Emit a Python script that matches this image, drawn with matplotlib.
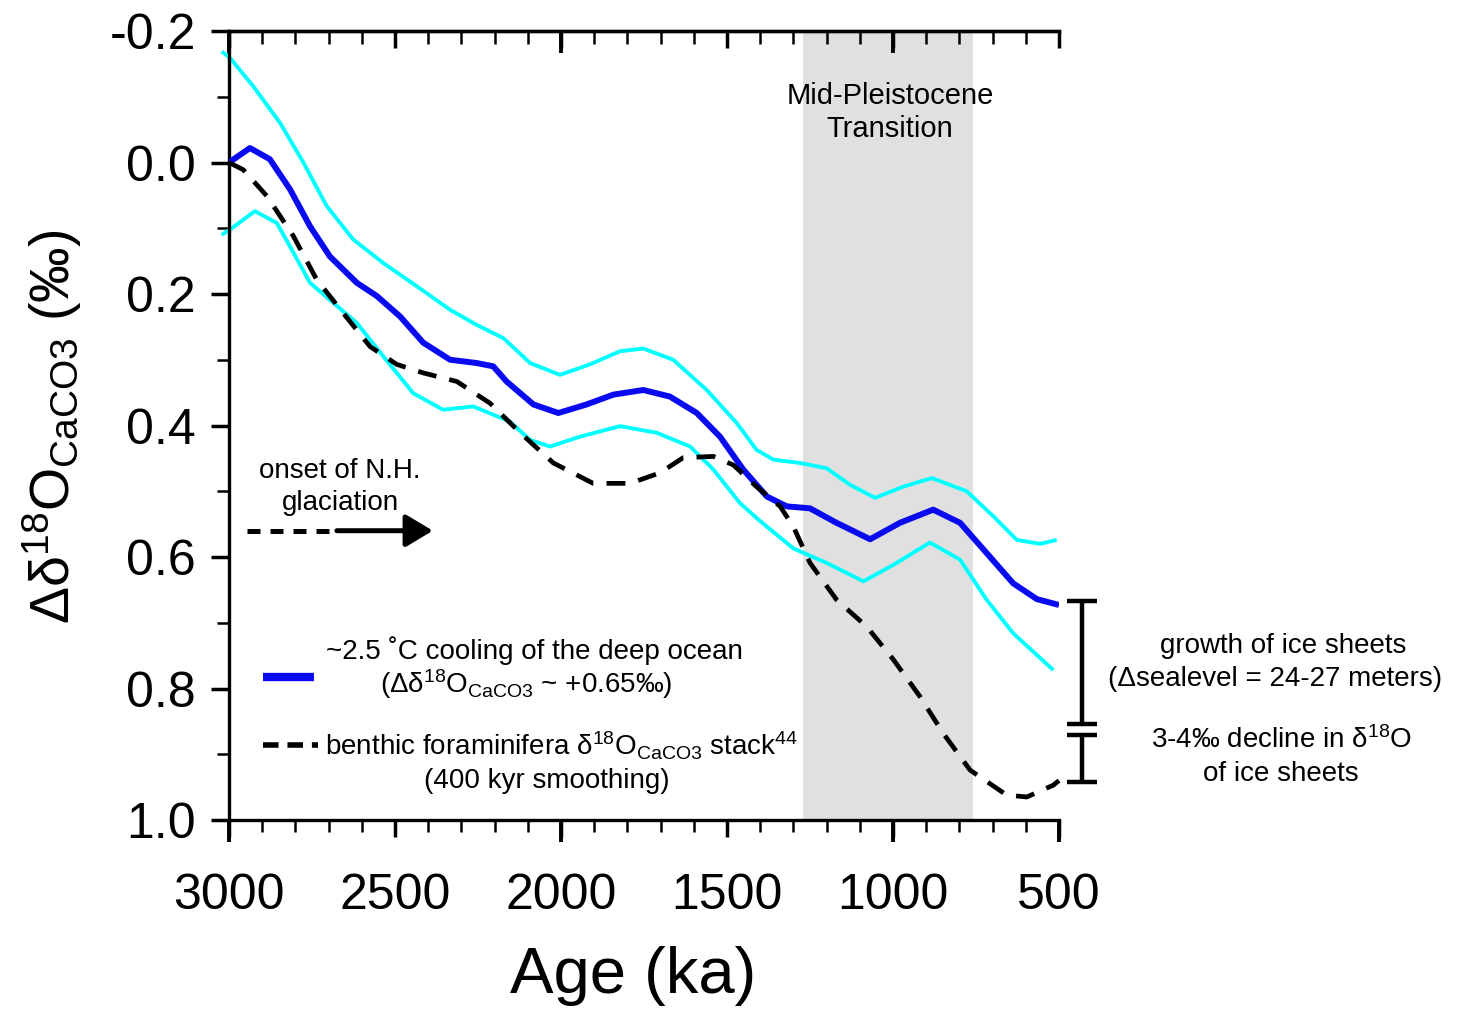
import matplotlib
matplotlib.use('Agg')  # no display
import matplotlib.pyplot as plt
from matplotlib.ticker import MultipleLocator, FormatStrFormatter

plt.rcParams['font.family'] = ['Liberation Sans', 'DejaVu Sans']
plt.rcParams['mathtext.fontset'] = 'custom'
plt.rcParams['mathtext.rm'] = 'Liberation Sans'
plt.rcParams['mathtext.it'] = 'Liberation Sans:italic'
plt.rcParams['mathtext.bf'] = 'Liberation Sans:bold'
plt.rcParams['axes.unicode_minus'] = False
plt.rcParams['lines.solid_joinstyle'] = 'round'
plt.rcParams['lines.solid_capstyle'] = 'butt'

# ---- data (age in ka, delta in permil) ----
ocean_age = [3000, 2937, 2877, 2816, 2756, 2696, 2615, 2555, 2485, 2415, 2334, 2254,
             2204, 2164, 2083, 2008, 1923, 1842, 1752, 1672, 1591, 1521, 1451, 1380,
             1320, 1250, 1170, 1069, 979, 879, 798, 718, 638, 567, 500]
ocean_d18o = [0.000, -0.022, -0.005, 0.041, 0.097, 0.143, 0.183, 0.203, 0.234, 0.274,
              0.300, 0.305, 0.310, 0.333, 0.368, 0.381, 0.368, 0.353, 0.346, 0.356,
              0.381, 0.417, 0.467, 0.508, 0.523, 0.526, 0.548, 0.573, 0.548, 0.528,
              0.548, 0.594, 0.640, 0.664, 0.673]

upper_age = [3022, 2997, 2927, 2846, 2776, 2706, 2626, 2535, 2435, 2334, 2254, 2174,
             2093, 2003, 1913, 1822, 1752, 1662, 1561, 1471, 1411, 1360, 1280, 1200,
             1130, 1054, 969, 883, 778, 698, 627, 557, 507]
upper_d18o = [-0.169, -0.159, -0.116, -0.060, 0.000, 0.066, 0.117, 0.153, 0.188, 0.224,
              0.247, 0.267, 0.305, 0.323, 0.307, 0.287, 0.283, 0.300, 0.346, 0.396,
              0.437, 0.452, 0.457, 0.465, 0.490, 0.510, 0.493, 0.480, 0.500, 0.538,
              0.574, 0.580, 0.574]

lower_age = [3022, 2997, 2922, 2856, 2806, 2756, 2696, 2615, 2535, 2445, 2355, 2264,
             2154, 2093, 2033, 1943, 1822, 1712, 1611, 1541, 1461, 1401, 1300, 1200,
             1089, 999, 889, 798, 718, 638, 517]
lower_d18o = [0.110, 0.102, 0.074, 0.092, 0.137, 0.183, 0.209, 0.244, 0.295, 0.351,
              0.376, 0.371, 0.394, 0.422, 0.432, 0.417, 0.401, 0.411, 0.432, 0.467,
              0.518, 0.545, 0.587, 0.609, 0.637, 0.612, 0.578, 0.604, 0.665, 0.716,
              0.772]

stack_age = [3000, 2957, 2886, 2806, 2736, 2656, 2575, 2495, 2415, 2314, 2214, 2123,
             2023, 1903, 1792, 1702, 1632, 1541, 1481, 1411, 1340, 1300, 1250, 1170,
             1079, 999, 919, 849, 768, 658, 597, 517, 500]
stack_d18o = [0.000, 0.011, 0.051, 0.112, 0.178, 0.229, 0.280, 0.307, 0.320, 0.333,
              0.366, 0.411, 0.457, 0.488, 0.488, 0.472, 0.449, 0.447, 0.460, 0.493,
              0.523, 0.554, 0.609, 0.665, 0.706, 0.756, 0.812, 0.868, 0.924, 0.962,
              0.965, 0.947, 0.940]

mpt_band = (1270, 760)          # Mid-Pleistocene Transition shading
ice_growth = (0.667, 0.854)     # bracket: growth of ice sheets
ice_decline = (0.871, 0.942)    # bracket: 3-4 permil decline

W, H = 1460, 1013
fig = plt.figure(figsize=(W / 100, H / 100), dpi=100)
ax = fig.add_axes([229 / W, 1 - 820 / H, 830 / W, 789 / H])


def ftext(x, y, s, **kw):
    """text placed in reference pixel coords"""
    fig.text(x / W, 1 - y / H, s, **kw)


ax.axvspan(*mpt_band, color='#e0e0e0', lw=0, zorder=0)
ax.plot(upper_age, upper_d18o, color='#00ffff', lw=2.8, clip_on=False, zorder=2)
ax.plot(lower_age, lower_d18o, color='#00ffff', lw=2.8, clip_on=False, zorder=2)
ax.plot(ocean_age, ocean_d18o, color='#0a0af0', lw=4.3, zorder=3)
ax.plot(stack_age, stack_d18o, color='black', lw=3.4, dashes=(4.0, 2.8),
        dash_capstyle='butt', clip_on=False, zorder=4)

ax.set_xlim(3000, 500)
ax.set_ylim(1.0, -0.2)
ax.xaxis.set_major_locator(MultipleLocator(500))
ax.xaxis.set_minor_locator(MultipleLocator(100))
ax.yaxis.set_major_locator(MultipleLocator(0.2))
ax.yaxis.set_minor_locator(MultipleLocator(0.1))
ax.yaxis.set_major_formatter(FormatStrFormatter('%.1f'))

ax.tick_params(axis='x', which='major', direction='out', length=12, width=2.5,
               labelsize=36, pad=26)
ax.tick_params(axis='x', which='minor', direction='out', length=8.5, width=1.8)
ax.tick_params(axis='y', which='major', direction='out', length=13, width=2.5,
               labelsize=36, pad=11)
ax.tick_params(axis='y', which='minor', direction='out', length=8.5, width=1.8)
ax.spines['right'].set_visible(False)
for s in ('left', 'bottom', 'top'):
    ax.spines[s].set_linewidth(2.4)

# top axis: inward ticks
top = ax.secondary_xaxis('top')
top.xaxis.set_major_locator(MultipleLocator(500))
top.xaxis.set_minor_locator(MultipleLocator(100))
top.tick_params(which='major', direction='in', length=12, width=2.5, labeltop=False)
top.tick_params(which='minor', direction='in', length=9, width=1.8)
top.spines['top'].set_linewidth(2.4)

# longer ticks every 1000 ka
top_long = ax.secondary_xaxis('top')
top_long.set_xticks([3000, 2000, 1000])
top_long.tick_params(direction='in', length=16, width=2.8, labeltop=False)
bot_long = ax.secondary_xaxis('bottom')
bot_long.set_xticks([3000, 2000, 1000, 500])
bot_long.tick_params(direction='out', length=16, width=2.8, labelbottom=False)

# onset arrow
ax.plot([2946, 2696], [0.56, 0.56], color='black', lw=3.6, dashes=(2.6, 2.0),
        dash_capstyle='butt')
ax.annotate('', xy=(2386, 0.56), xytext=(2675, 0.56),
            arrowprops=dict(arrowstyle='-|>,head_length=0.75,head_width=0.45',
                            lw=3.6, color='black', mutation_scale=22,
                            shrinkA=0, shrinkB=0))

# legend samples
ax.plot([2898, 2744], [0.782, 0.782], color='#0a0af0', lw=6)
ax.plot([2898, 2732], [0.886, 0.886], color='black', lw=4, dashes=(2.8, 1.6),
        dash_capstyle='butt')

# right-hand brackets
bx, cap = 430, 45
for lo, hi in (ice_growth, ice_decline):
    ax.plot([bx, bx], [lo, hi], color='black', lw=3.2, clip_on=False)
    for yv in (lo, hi):
        ax.plot([bx - cap, bx + cap], [yv, yv], color='black', lw=3.2, clip_on=False)

fs = 20
ftext(534, 659, '~2.5 ˚C cooling of the deep ocean', fontsize=fs, ha='center')
ftext(526, 693, r'(Δδ$^{18}$O$_{\mathrm{CaCO3}}$ ~ +0.65‰)', fontsize=fs, ha='center')
ftext(325, 755, r'benthic foraminifera δ$^{18}$O$_{\mathrm{CaCO3}}$ stack$^{44}$',
      fontsize=fs, ha='left')
ftext(547, 788, '(400 kyr smoothing)', fontsize=fs, ha='center')
ftext(340, 478, 'onset of N.H.', fontsize=fs, ha='center')
ftext(340, 510, 'glaciation', fontsize=fs, ha='center')
ftext(890, 104, 'Mid-Pleistocene', fontsize=fs + 1, ha='center')
ftext(890, 137, 'Transition', fontsize=fs + 1, ha='center')
ftext(1283, 653, 'growth of ice sheets', fontsize=fs, ha='center')
ftext(1275, 686, '(Δsealevel = 24-27 meters)', fontsize=fs, ha='center')
ftext(1281, 748, r'3-4‰ decline in δ$^{18}$O', fontsize=fs, ha='center')
ftext(1281, 781, 'of ice sheets', fontsize=fs, ha='center')

ftext(52, 427, r'Δδ$^{18}$O$_{\mathrm{CaCO3}}$ (‰)', fontsize=40, rotation=90,
      ha='center', va='center')
ftext(633, 976, 'Age (ka)', fontsize=47, ha='center', va='center')

fig.savefig('out.png', dpi=100)
plt.close(fig)
